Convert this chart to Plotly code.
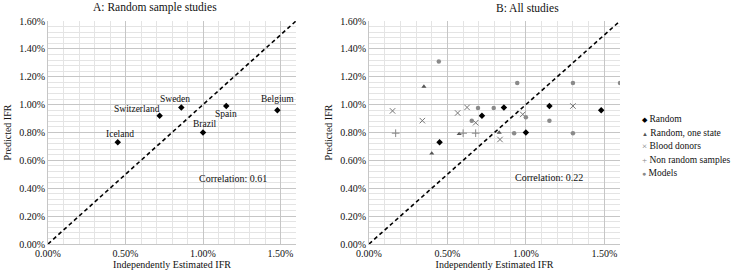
import plotly.graph_objects as go

# ---------------- data (values in percent) ----------------
countries = ["Iceland", "Switzerland", "Sweden", "Spain", "Brazil", "Belgium"]
random_x = [0.45, 0.72, 0.86, 1.15, 1.00, 1.48]
random_y = [0.73, 0.92, 0.98, 0.99, 0.80, 0.96]

one_state_x = [0.35, 0.40, 0.575, 0.83]
one_state_y = [1.13, 0.65, 0.79, 0.80]

blood_x = [0.15, 0.34, 0.565, 0.625, 0.68, 0.835, 0.98, 1.30]
blood_y = [0.955, 0.885, 0.94, 0.98, 0.87, 0.75, 0.93, 0.99]

nonrandom_x = [0.17, 0.60, 0.68]
nonrandom_y = [0.795, 0.795, 0.795]

models_x = [0.445, 0.655, 0.695, 0.795, 0.945, 0.925, 1.00, 1.15, 1.30, 1.30, 1.60]
models_y = [1.31, 0.885, 0.975, 0.975, 1.155, 0.795, 0.91, 0.885, 1.155, 0.795, 1.155]

series_names = ["Random", "Random, one state", "Blood donors", "Non random samples", "Models"]
corr_labels = ["Correlation: 0.61", "Correlation: 0.22"]
titles = ["A: Random sample studies", "B: All studies"]
x_ticks = [0, 0.5, 1.0, 1.5]
x_ticktext = ["0.00%", "0.50%", "1.00%", "1.50%"]
y_ticks = [0, 0.2, 0.4, 0.6, 0.8, 1.0, 1.2, 1.4, 1.6]
y_ticktext = ["0.00%", "0.20%", "0.40%", "0.60%", "0.80%", "1.00%", "1.20%", "1.40%", "1.60%"]
diag = [0, 1.6]

# label offsets (px) for country names
label_shift = {"Iceland": (2, 8), "Switzerland": (-23, 7), "Sweden": (-6, 8),
               "Spain": (0, -8), "Brazil": (2, 9), "Belgium": (0, 11)}

FONT = "Liberation Serif"
TXT = "#111111"
W, H = 736, 277

def px_x(p):
    return p / W

def px_y(p):
    return 1 - p / H

styles = [
    dict(symbol="diamond", size=5, color="black"),
    dict(symbol="triangle-up", size=4.5, color="#555555"),
    dict(symbol="x-thin-open", size=5.5, color="#777777", line=dict(width=1, color="#777777")),
    dict(symbol="cross-thin-open", size=5.5, color="#888888", line=dict(width=1, color="#888888")),
    dict(symbol="circle", size=4.5, color="#8a8a8a"),
]
legend_glyphs = [("◆", "black", 7), ("▲", "#555555", 6), ("×", "#777777", 9),
                 ("+", "#888888", 9), ("●", "#8a8a8a", 7)]

fig = go.Figure()

# ---- panel A ----
fig.add_trace(go.Scatter(x=random_x, y=random_y, mode="markers", xaxis="x", yaxis="y",
                         marker=styles[0], showlegend=False, hoverinfo="skip"))

# ---- panel B ----
for name, xs, ys, st in zip(series_names,
                            [random_x, one_state_x, blood_x, nonrandom_x, models_x],
                            [random_y, one_state_y, blood_y, nonrandom_y, models_y],
                            styles):
    fig.add_trace(go.Scatter(x=xs, y=ys, mode="markers", xaxis="x2", yaxis="y2",
                             name=name, marker=st, showlegend=False))

minor_grid = dict(showgrid=True, gridcolor="#e4e4e4", gridwidth=1)
axis_common = dict(
    range=[0, 1.6], showgrid=True, gridcolor="#c6c6c6", gridwidth=1,
    showline=True, linecolor="#c6c6c6", linewidth=1, zeroline=False,
    ticks="", tickfont=dict(family=FONT, size=10, color=TXT),
    fixedrange=True, automargin=False,
)

xcommon = dict(axis_common, tickmode="array", tickvals=x_ticks, ticktext=x_ticktext,
               minor=dict(minor_grid, dtick=0.1),
               title=dict(text="Independently Estimated IFR",
                          font=dict(family=FONT, size=10, color=TXT), standoff=1))
ycommon = dict(axis_common, tickmode="array", tickvals=y_ticks, ticktext=y_ticktext,
               minor=dict(minor_grid, dtick=0.04),
               title=dict(text="Predicted IFR",
                          font=dict(family=FONT, size=10, color=TXT), standoff=5))

fig.update_layout(
    width=W, height=H,
    margin=dict(l=0, r=0, t=0, b=0),
    paper_bgcolor="white", plot_bgcolor="white",
    font=dict(family=FONT, size=10, color=TXT),
    xaxis=dict(xcommon, domain=[px_x(48), px_x(296)], anchor="y"),
    yaxis=dict(ycommon, domain=[px_y(244), px_y(21)], anchor="x"),
    xaxis2=dict(xcommon, domain=[px_x(369), px_x(620)], anchor="y2"),
    yaxis2=dict(ycommon, domain=[px_y(244), px_y(21)], anchor="x2"),
    showlegend=False,
)

# diagonal dashed lines
for xr, yr in [("x", "y"), ("x2", "y2")]:
    fig.add_shape(type="line", xref=xr, yref=yr, x0=diag[0], y0=diag[0], x1=diag[1], y1=diag[1],
                  line=dict(color="black", width=1.6, dash="4px,3px"), layer="above")

# country labels
for c, x, y in zip(countries, random_x, random_y):
    dx, dy = label_shift[c]
    fig.add_annotation(x=x, y=y, xref="x", yref="y", text=c, showarrow=False,
                       xanchor="center", yanchor="middle",
                       xshift=dx, yshift=dy, font=dict(family=FONT, size=9.5, color=TXT))

# correlation texts
fig.add_annotation(x=1.193, y=0.473, xref="x", yref="y", text=corr_labels[0], showarrow=False,
                   xanchor="center", yanchor="middle", font=dict(family=FONT, size=10, color=TXT))
fig.add_annotation(x=1.146, y=0.48, xref="x2", yref="y2", text=corr_labels[1], showarrow=False,
                   xanchor="center", yanchor="middle", font=dict(family=FONT, size=10, color=TXT))

# titles
fig.add_annotation(x=px_x(155), y=px_y(7.5), xref="paper", yref="paper", text=titles[0],
                   xanchor="center", yanchor="middle", showarrow=False,
                   font=dict(family=FONT, size=11.5, color=TXT))
fig.add_annotation(x=px_x(527), y=px_y(7.5), xref="paper", yref="paper", text=titles[1],
                   xanchor="center", yanchor="middle", showarrow=False,
                   font=dict(family=FONT, size=11.5, color=TXT))

# legend (text-based, to match the compact spacing)
leg_y0, leg_dy = 119, 13.6
for i, (name, (g, col, gs)) in enumerate(zip(series_names, legend_glyphs)):
    fig.add_annotation(x=px_x(640), y=px_y(leg_y0 + i * leg_dy), xref="paper", yref="paper",
                       xanchor="left", yanchor="middle", showarrow=False,
                       text=f"<span style='color:{col};font-size:{gs}px'>{g}</span> {name}",
                       font=dict(family=FONT, size=9.5, color=TXT))

# remove the page's default body margin so the figure fills the window exactly
fig.write_html("out.html", config={"displayModeBar": False},
               post_script="document.body.style.margin='0';")
